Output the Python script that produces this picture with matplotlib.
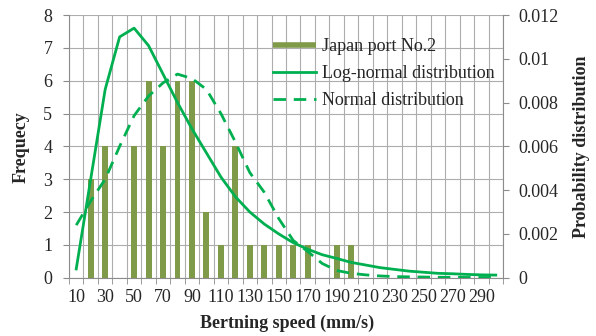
import numpy as np
import matplotlib
matplotlib.use('Agg')
import matplotlib.pyplot as plt
from matplotlib.lines import Line2D
from matplotlib.ticker import FixedLocator, NullFormatter

# berthing speed classes (mm/s)
speeds = [10, 20, 30, 40, 50, 60, 70, 80, 90, 100,
          110, 120, 130, 140, 150, 160, 170, 180, 190, 200,
          210, 220, 230, 240, 250, 260, 270, 280, 290, 300]
frequency = [0, 3, 4, 0, 4, 6, 4, 6, 6, 2,
             1, 4, 1, 1, 1, 1, 1, 0, 1, 1,
             0, 0, 0, 0, 0, 0, 0, 0, 0, 0]
lognormal = [0.0004, 0.0045, 0.0086, 0.0110, 0.0114, 0.0106, 0.0093, 0.0080, 0.0068, 0.0057,
             0.0046, 0.0037, 0.0030, 0.00245, 0.0020, 0.0016, 0.0013, 0.00105, 0.00088, 0.0007,
             0.00058, 0.00046, 0.00038, 0.0003, 0.00025, 0.0002, 0.00018, 0.00015, 0.00013, 0.00012]
normal = [0.0024, 0.0035, 0.0045, 0.0060, 0.0074, 0.0083, 0.0089, 0.0093, 0.0091, 0.0086,
          0.0075, 0.0062, 0.0048, 0.0039, 0.0027, 0.0017, 0.0012, 0.00065, 0.00033, 0.0002,
          0.00013, 0.00008, 0.00005, 0.00004, 0.00003, 0.00002, 0.00002, 0.00001, 0.00001, 0.00001]
prob_ticks = [0, 0.002, 0.004, 0.006, 0.008, 0.01, 0.012]
prob_labels = ["0", "0.002", "0.004", "0.006", "0.008", "0.01", "0.012"]

BAR_C = "#7f9a48"
LINE_C = "#00b050"
GRID_C = "#adadad"
AXIS_C = "#8c8c8c"
TEXT_C = "#262626"
FS = 13

plt.rcParams.update({
    "font.family": ["Liberation Serif", "DejaVu Serif"],
    "font.size": FS,
    "text.color": TEXT_C,
    "xtick.labelcolor": TEXT_C,
    "ytick.labelcolor": TEXT_C,
    "savefig.facecolor": "white",
})

fig = plt.figure(figsize=(5.96, 3.36), dpi=100)
ax = fig.add_axes([69 / 596, 1 - 277.7 / 336, 434 / 596, 262.7 / 336])
ax2 = ax.twinx()

idx = np.arange(len(speeds))
ax.bar(idx, frequency, width=0.41, color=BAR_C, zorder=2)
ax2.plot(idx, lognormal, color=LINE_C, lw=2.0, zorder=3)
ax2.plot(idx, normal, color=LINE_C, lw=2.0, linestyle=(0, (4.5, 2.8)), zorder=3)

ax.set_xlim(-0.5, len(speeds) - 0.5)
ax.set_ylim(0, 8)
ax2.set_ylim(0, 0.012)

# category axis: ticks/gridlines at the class boundaries, labels on every other class
ax.set_xticks(idx[::2])
ax.set_xticklabels([str(s) for s in speeds[::2]])
ax.xaxis.set_minor_locator(FixedLocator(np.arange(-0.5, len(speeds), 1.0)))
ax.xaxis.set_minor_formatter(NullFormatter())
ax.tick_params(axis="x", which="major", length=0, pad=8)
ax.tick_params(axis="x", which="minor", length=4, color=AXIS_C, direction="out")
ax.grid(True, which="minor", axis="x", color=GRID_C, lw=0.8, zorder=0)
ax.grid(True, which="major", axis="y", color=GRID_C, lw=0.8, zorder=0)
ax.set_axisbelow(True)

ax.set_yticks(range(0, 9))
ax.tick_params(axis="y", length=4, color=AXIS_C, pad=8)
ax2.set_yticks(prob_ticks)
ax2.set_yticklabels(prob_labels)
ax2.tick_params(axis="y", length=4, color=AXIS_C, pad=7)

for a in (ax, ax2):
    for s in a.spines.values():
        s.set_visible(False)
ax.spines["bottom"].set_visible(True)
ax.spines["bottom"].set_color(AXIS_C)
ax.spines["left"].set_visible(True)
ax.spines["left"].set_color(AXIS_C)
ax2.spines["right"].set_visible(True)
ax2.spines["right"].set_color(AXIS_C)

fig.text(21 / 596, 1 - 147 / 336, "Frequecy", rotation=90, ha="center", va="center",
         fontweight="bold", fontsize=FS)
fig.text(581 / 596, 1 - 147 / 336, "Probability distribution", rotation=90, ha="center",
         va="center", fontweight="bold", fontsize=FS)
fig.text(287 / 596, 1 - 323 / 336, "Bertning speed (mm/s)", ha="center", va="center",
         fontweight="bold", fontsize=FS)

handles = [
    Line2D([], [], color=BAR_C, lw=4.0, solid_capstyle="butt"),
    Line2D([], [], color=LINE_C, lw=2.0),
    Line2D([], [], color=LINE_C, lw=2.0, linestyle=(0, (4.5, 2.8))),
]
labels = ["Japan port No.2", "Log-normal distribution", "Normal distribution"]
fig.legend(handles, labels, loc="upper left", bbox_to_anchor=(273 / 596, 1 - 38 / 336),
           frameon=False, borderpad=0, borderaxespad=0, handlelength=2.4,
           handletextpad=0.3, labelspacing=0.55, fontsize=FS)

fig.savefig("out.png", dpi=100)
